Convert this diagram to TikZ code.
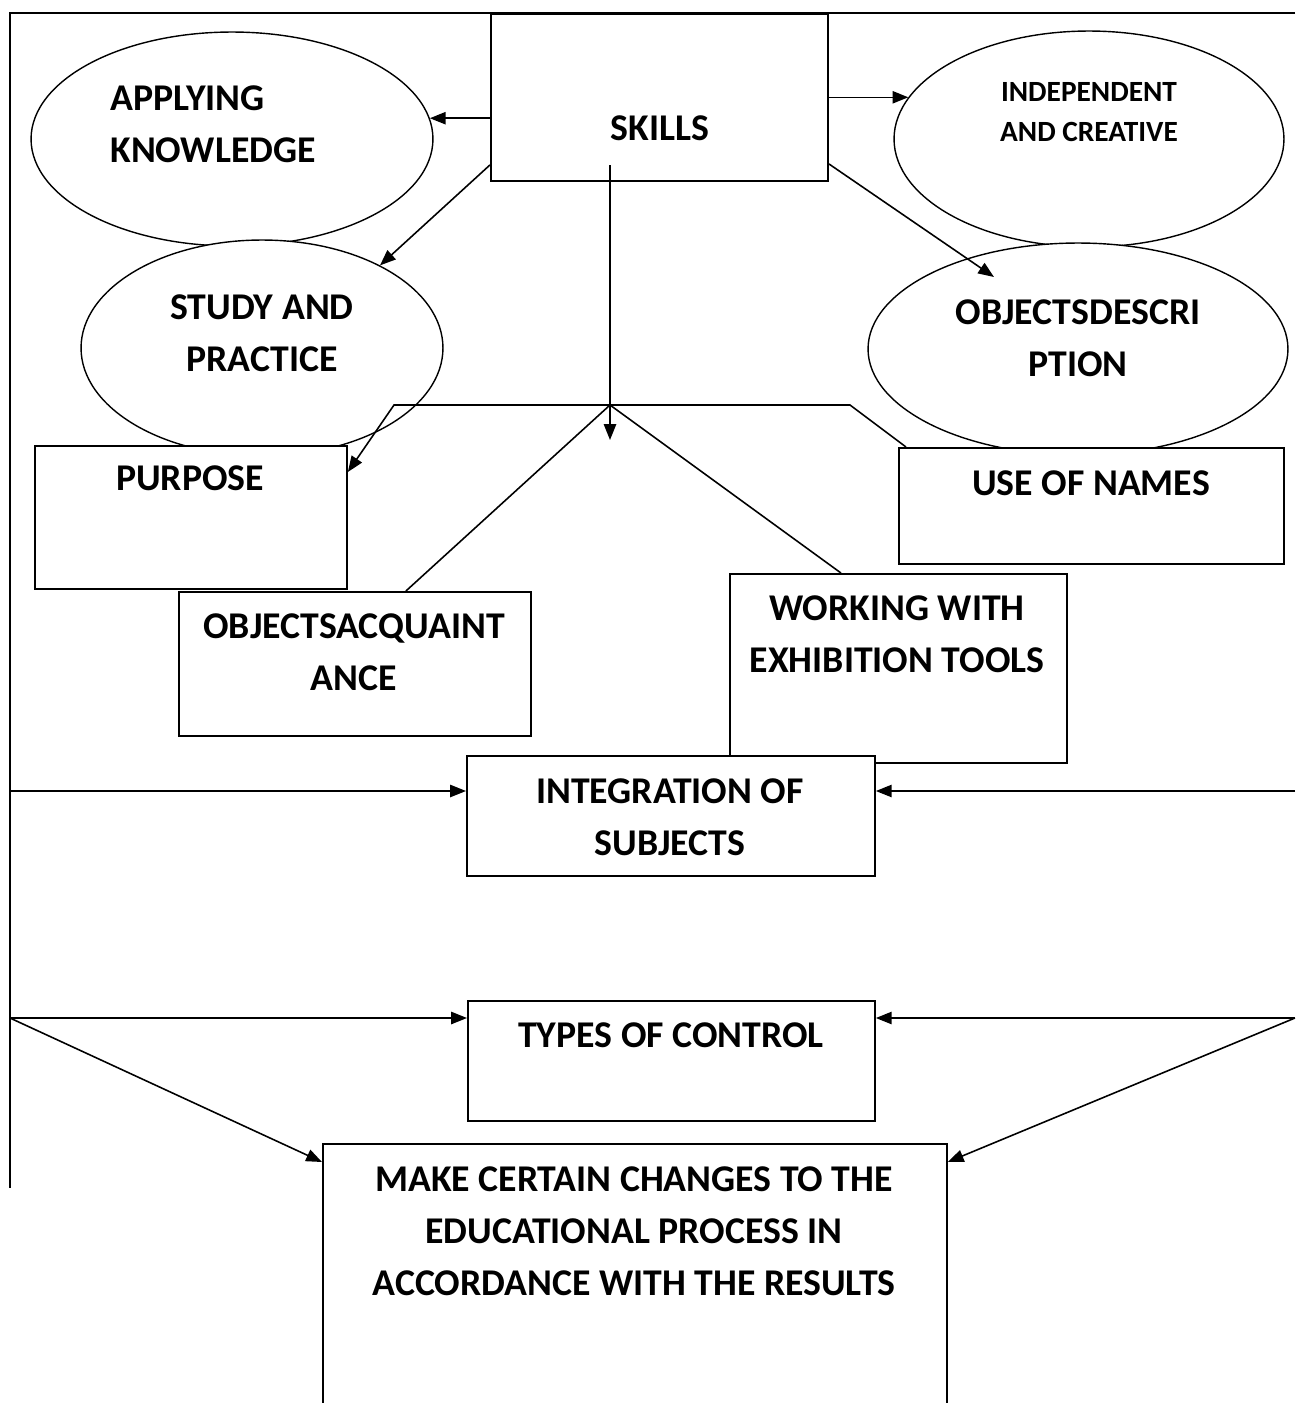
\documentclass[tikz,border=0pt]{standalone}
\usepackage{fontspec}
\setmainfont{Carlito}
\usetikzlibrary{arrows.meta,shapes.geometric}

\tikzset{
    box/.style={draw, line width=1.1pt, fill=white, rectangle, inner sep=0pt, anchor=north west},
    oval/.style={draw, line width=0.8pt, fill=white, ellipse, inner sep=0pt},
    lbl/.style={font=\fontsize{21.5}{29.5}\selectfont\bfseries, align=center, inner sep=0pt},
    small lbl/.style={font=\fontsize{16.7}{23.2}\selectfont\bfseries, align=center, inner sep=0pt},
    link/.style={line width=0.9pt},
    arr/.style={line width=0.9pt, -{Triangle[length=9pt,width=7pt]}},
}

\begin{document}
\begin{tikzpicture}[x=0.02cm, y=-0.02cm]
        \useasboundingbox (0,0) rectangle (1295,1403);
        \clip (0,0) rectangle (1295,1403);

        % Ovals round the skills box
        \node[oval, minimum width=8.04cm, minimum height=4.28cm] (apply) at (232,139) {};
        \node[oval, minimum width=7.8cm, minimum height=4.32cm] (indep) at (1089,139) {};
        \node[oval, minimum width=7.24cm, minimum height=4.32cm] (study) at (262,348) {};
        \node[oval, minimum width=8.4cm, minimum height=4.24cm] (desc) at (1078,349) {};

        % Boxes
        \node[box, minimum width=6.74cm, minimum height=3.34cm] (skills) at (490,13) {};
        \node[box, minimum width=6.24cm, minimum height=2.86cm] (purpose) at (34,445) {};
        \node[box, minimum width=7.7cm, minimum height=2.32cm] (names) at (898,447) {};
        \node[box, minimum width=7.04cm, minimum height=2.88cm] (acq) at (178,591) {};
        \node[box, minimum width=6.74cm, minimum height=3.78cm] (work) at (729,573) {};
        \node[box, minimum width=8.16cm, minimum height=2.4cm] (integ) at (466,755) {};
        \node[box, minimum width=8.14cm, minimum height=2.4cm] (ctrl) at (467,1000) {};
        \node[box, minimum width=12.48cm, minimum height=6cm] (make) at (322,1143) {};

        % Points on the frame and the branching point
        \coordinate (frame-tl) at (10,13);
        \coordinate (frame-tr) at (1295,13);
        \coordinate (frame-bl) at (10,1188);
        \coordinate (left-a) at (10,791);
        \coordinate (right-a) at (1295,791);
        \coordinate (left-b) at (10,1018);
        \coordinate (right-b) at (1295,1018);
        \coordinate (stem) at (610,165);
        \coordinate (stem-end) at (610,440);
        \coordinate (hub) at (610,405);
        \coordinate (bend-l) at (394,405);
        \coordinate (bend-r) at (850,405);
        \coordinate (desc-tip) at (994,277);

        % Frame
        \draw[link] (frame-tr) -- (frame-tl) -- (frame-bl);

        % Arrows out of the skills box
        \draw[arr] (skills.west |- apply.6) -- (apply.6);
        \draw[arr] (skills.east |- indep.167) -- (indep.167);
        \draw[arr] ([yshift=0.34cm]skills.south west) -- (study.35);
        \draw[arr] ([yshift=0.36cm]skills.south east) -- (desc-tip);
        \draw[arr] (stem) -- (stem-end);

        % Branches from the hub
        \draw[arr] (hub) -- (bend-l) -- ([yshift=-0.54cm]purpose.north east);
        \draw[link] (hub) -- (bend-r) -- ([xshift=0.16cm]names.north west);
        \draw[link] (hub) -- ([xshift=1.02cm]acq.north);
        \draw[link] (hub) -- ([xshift=-1.15cm]work.north);

        % Lower arrows
        \draw[arr] (left-a) -- (left-a -| integ.west);
        \draw[arr] (right-a) -- (right-a -| integ.east);
        \draw[arr] (left-b) -- (left-b -| ctrl.west);
        \draw[arr] (right-b) -- (right-b -| ctrl.east);
        \draw[arr] (left-b) -- ([yshift=-0.38cm]make.north west);
        \draw[arr] (right-b) -- ([yshift=-0.38cm]make.north east);

        % Labels
        \node[lbl] (skills-t) at (660,128) {SKILLS};
        \node[lbl, align=left, anchor=west] (apply-t) at (110,124) {APPLYING\\KNOWLEDGE};
        \node[small lbl] (indep-t) at (1089,112) {INDEPENDENT\\AND CREATIVE};
        \node[lbl] (study-t) at (262,333) {STUDY AND\\PRACTICE};
        \node[lbl] (desc-t) at (1078,338) {OBJECTSDESCRI\\PTION};
        \node[lbl] (purpose-t) at (190,478) {PURPOSE};
        \node[lbl] (names-t) at (1091,483) {USE OF NAMES};
        \node[lbl] (acq-t) at (354,652) {OBJECTSACQUAINT\\ANCE};
        \node[lbl] (work-t) at (897,634) {WORKING WITH\\EXHIBITION TOOLS};
        \node[lbl] (integ-t) at (670,817) {INTEGRATION OF\\SUBJECTS};
        \node[lbl] (ctrl-t) at (671,1035) {TYPES OF CONTROL};
        \node[lbl] (make-t) at (634,1231) {MAKE CERTAIN CHANGES TO THE\\EDUCATIONAL PROCESS IN\\ACCORDANCE WITH THE RESULTS};
    \end{tikzpicture}
\end{document}
